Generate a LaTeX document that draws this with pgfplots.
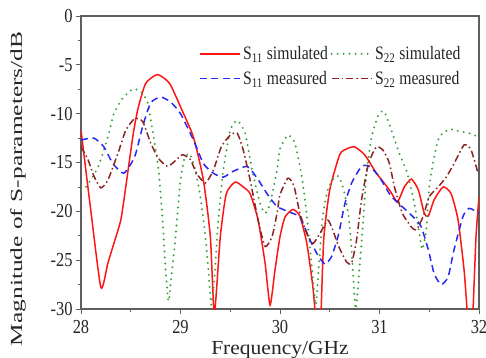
\documentclass[border=0pt]{standalone}
\usepackage{fontspec}
\setmainfont{Liberation Serif}[FakeStretch=0.83]
\newfontfamily\ylabfont{Liberation Serif}[FakeStretch=1.5]
\newfontfamily\xlabfont{Liberation Serif}[FakeStretch=1.08]
\usepackage{pgfplots}
\pgfplotsset{compat=1.18}
\definecolor{cred}{RGB}{255,20,20}
\definecolor{cblue}{RGB}{40,40,245}
\definecolor{cgreen}{RGB}{60,160,60}
\definecolor{cbrown}{RGB}{140,35,35}
\definecolor{frame}{RGB}{95,95,95}
\begin{document}
\begin{tikzpicture}
\path[use as bounding box] (-81bp,-49bp) rectangle (405bp,309bp);
\begin{axis}[
  at={(0,0)}, anchor=south west,
  scale only axis, width=398bp, height=293bp,
  xmin=28, xmax=32, ymin=-30, ymax=0,
  xtick={28,29,30,31,32}, ytick={-30,-25,-20,-15,-10,-5,0},
  minor x tick num=1, minor y tick num=1,
  tick pos=left, tick align=outside,
  major tick length=5bp, minor tick length=3bp,
  every tick/.style={frame, line width=0.8pt},
  axis line style={frame, line width=1.1pt},
  /pgf/number format/assume math mode=true,
  tick label style={font=\fontsize{19.9}{22}\selectfont, text=black!85},
  xticklabel style={yshift=-3bp},
  xlabel={Frequency/GHz},
  ylabel={Magnitude of S-parameters/dB},
  xlabel style={font=\xlabfont\fontsize{20}{24}\selectfont, at={(axis description cs:0.5,-0.14)}, anchor=center, text=black!85},
  ylabel style={font=\ylabfont\fontsize{17}{20}\selectfont, at={(axis description cs:-0.158,0.41)}, anchor=center, text=black!85},
  legend columns=2,
  legend cell align=left,
  legend style={draw=none, fill=none, at={(axis description cs:0.96,0.905)}, anchor=north east,
    font=\fontsize{19}{22}\selectfont, text=black!85, inner sep=0pt, row sep=5bp,
    nodes={inner sep=2.5bp}},
  legend image code/.code={\draw[#1] plot coordinates {(0bp,0bp) (40bp,0bp)};},
]
\addplot[cred, line width=1.5pt, smooth, tension=0.35] coordinates {
(28.0,-11.7)(28.09,-19.2)(28.2,-27.8)(28.27,-25.3)(28.33,-23.3)(28.4,-20.9)(28.45,-17.5)(28.52,-12.4)(28.57,-9.6)(28.65,-6.9)(28.77,-6.0)(28.89,-6.9)(29.0,-9.3)(29.13,-12.4)(29.23,-16.8)(29.3,-22.6)(29.34,-30.5)(29.4,-22.6)(29.46,-18.2)(29.55,-17.0)(29.63,-17.5)(29.7,-18.2)(29.78,-20.9)(29.85,-25.3)(29.9,-29.6)(29.95,-26)(30.0,-22.6)(30.05,-20.6)(30.13,-19.8)(30.2,-20.5)(30.27,-23.3)(30.33,-27.7)(30.36,-31)(30.39,-33)(30.41,-31)(30.44,-22.8)(30.5,-17.8)(30.6,-14.2)(30.67,-13.6)(30.75,-13.4)(30.85,-14.2)(30.97,-16.1)(31.1,-17.8)(31.18,-19.0)(31.25,-17.5)(31.32,-16.7)(31.39,-17.8)(31.45,-20.2)(31.49,-20.5)(31.55,-18.8)(31.64,-17.5)(31.72,-18.2)(31.79,-20.9)(31.85,-26)(31.88,-30)(31.91,-33)(31.94,-30)(31.97,-22.6)(32.0,-18.5)
};
\addlegendentry{S\textsubscript{11} simulated}
\addplot[cgreen, line width=2.2bp, line cap=round, dash pattern=on 0bp off 6bp, smooth, tension=0.35] coordinates {
(28.0,-17.8)(28.05,-17.5)(28.17,-15.5)(28.27,-12.4)(28.33,-10.0)(28.42,-8.4)(28.52,-7.5)(28.6,-7.7)(28.67,-8.9)(28.73,-12.4)(28.78,-15.8)(28.82,-20.9)(28.85,-26)(28.88,-29.2)(28.91,-26.5)(28.95,-22.6)(29.0,-16.8)(29.04,-14.6)(29.09,-14.1)(29.14,-15.4)(29.2,-18.5)(29.25,-22.6)(29.28,-26)(29.31,-29.6)(29.34,-27)(29.38,-20.9)(29.43,-15.8)(29.5,-11.7)(29.57,-10.7)(29.65,-12.0)(29.72,-15.8)(29.8,-19.2)(29.85,-20.2)(29.9,-19.2)(29.97,-15.8)(30.0,-13.6)(30.08,-12.2)(30.15,-13.0)(30.22,-16.5)(30.27,-20.5)(30.32,-25.7)(30.36,-29.6)(30.39,-25.7)(30.43,-20.5)(30.48,-17.8)(30.54,-16.6)(30.59,-16.4)(30.64,-17.8)(30.69,-20.5)(30.72,-24)(30.76,-30)(30.8,-25.7)(30.84,-20.5)(30.87,-16.1)(30.92,-12.4)(30.99,-10.1)(31.05,-9.8)(31.13,-12.0)(31.2,-14.1)(31.28,-16.1)(31.35,-19.2)(31.4,-22.2)(31.43,-23.9)(31.47,-21.9)(31.5,-17.5)(31.55,-14.4)(31.6,-12.4)(31.7,-11.6)(31.8,-11.8)(31.9,-12.0)(32.0,-12.4)
};
\addlegendentry{S\textsubscript{22} simulated}
\addplot[cblue, line width=1.5pt, dash pattern=on 7bp off 4.5bp, smooth, tension=0.35] coordinates {
(28.0,-12.7)(28.13,-12.5)(28.23,-13.4)(28.32,-15.1)(28.43,-16.1)(28.54,-14.4)(28.62,-11.3)(28.7,-8.9)(28.8,-8.3)(28.9,-8.8)(29.0,-10.0)(29.13,-12.7)(29.23,-15.1)(29.33,-16.1)(29.43,-16.5)(29.53,-15.9)(29.67,-15.4)(29.77,-16.6)(29.87,-18.2)(29.97,-19.5)(30.1,-20.1)(30.2,-20.6)(30.3,-22.9)(30.37,-24.3)(30.45,-25.4)(30.52,-24.6)(30.59,-22.3)(30.65,-19.3)(30.72,-17.1)(30.82,-15.4)(30.9,-15.4)(31.0,-16.5)(31.1,-18.2)(31.17,-19.0)(31.27,-19.9)(31.37,-20.9)(31.42,-21.6)(31.49,-23.9)(31.55,-26.4)(31.62,-27.5)(31.69,-26.7)(31.75,-23.9)(31.84,-20.5)(31.9,-19.7)(31.97,-20.0)(32,-20.2)
};
\addlegendentry{S\textsubscript{11} measured}
\addplot[cbrown, line width=1.5pt, dash pattern=on 7bp off 3bp on 1.5bp off 3bp, smooth, tension=0.35] coordinates {
(28.0,-13.4)(28.07,-14.7)(28.13,-16.4)(28.2,-17.6)(28.27,-16.8)(28.37,-14.1)(28.45,-11.7)(28.54,-10.5)(28.62,-10.8)(28.7,-13.0)(28.78,-14.6)(28.87,-15.4)(28.95,-14.8)(29.02,-14.2)(29.1,-14.7)(29.16,-16.1)(29.25,-17.1)(29.33,-15.8)(29.41,-13.4)(29.5,-12.2)(29.57,-12.0)(29.63,-13.7)(29.7,-16.8)(29.78,-20.9)(29.85,-23.6)(29.92,-22.6)(29.97,-20.2)(30.0,-18.3)(30.08,-16.6)(30.14,-17.4)(30.2,-20.2)(30.27,-22.3)(30.33,-23.3)(30.4,-22.3)(30.48,-20.9)(30.53,-21.9)(30.59,-23.6)(30.67,-25.2)(30.72,-25.3)(30.77,-22.9)(30.82,-18.8)(30.89,-15.1)(30.97,-13.4)(31.04,-13.8)(31.1,-15.1)(31.15,-17.5)(31.23,-20.2)(31.32,-21.6)(31.37,-21.9)(31.44,-20.5)(31.5,-18.5)(31.59,-17.5)(31.67,-16.5)(31.75,-15.1)(31.85,-13.2)(31.92,-13.7)(31.99,-16.1)
};
\addlegendentry{S\textsubscript{22} measured}
\end{axis}
\end{tikzpicture}
\end{document}
